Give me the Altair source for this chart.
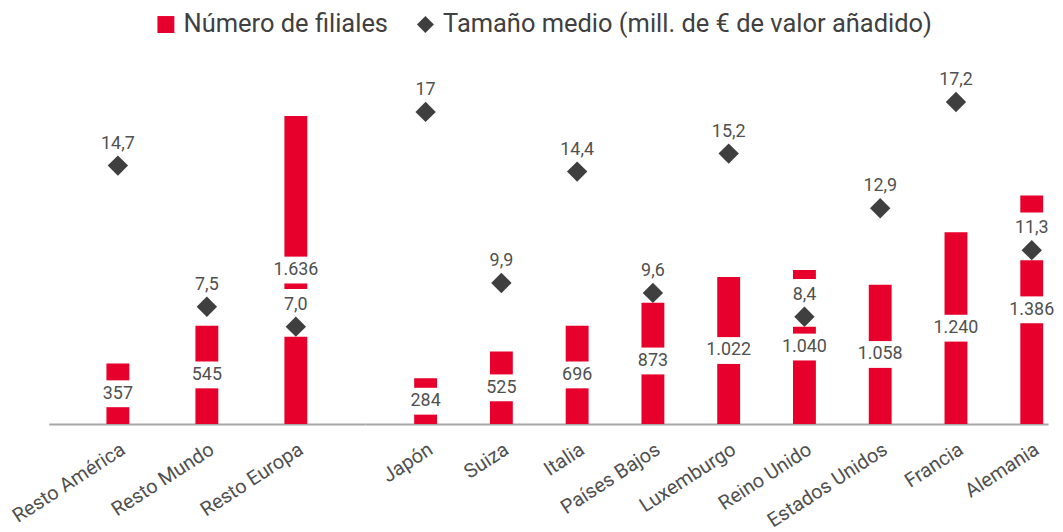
import altair as alt
import pandas as pd

categorias = ["Resto América", "Resto Mundo", "Resto Europa", "Japón", "Suiza", "Italia",
              "Países Bajos", "Luxemburgo", "Reino Unido", "Estados Unidos", "Francia", "Alemania"]
# bar heights as drawn in the picture (filiales axis)
filiales = [322, 522, 1635, 243, 385, 522, 670, 781, 818, 739, 1018, 1213]
filiales_txt = ["357", "545", "1.636", "284", "525", "696", "873", "1.022", "1.040", "1.058", "1.240", "1.386"]
# diamond positions as drawn in the picture (secondary axis)
tamano = [12.47, 5.66, 4.70, 15.06, 6.81, 12.18, 6.33, 13.05, 5.18, 10.41, 15.54, 8.39]
tamano_txt = ["14,7", "7,5", "7,0", "17", "9,9", "14,4", "9,6", "15,2", "8,4", "12,9", "17,2", "11,3"]

S1 = "Número de filiales"
S2 = "Tamaño medio (mill. de € de valor añadido)"
RED = "#E6002B"
DARK = "#3F3F3F"
TXT = "#505050"
FONT = "Roboto"

bdf = pd.DataFrame({"cat": categorias, "v": filiales, "t": filiales_txt, "serie": S1})
pdf = pd.DataFrame({"cat": categorias, "v": tamano, "t": tamano_txt, "serie": S2})

colscale = alt.Scale(domain=[S1, S2], range=[RED, DARK])
shapescale = alt.Scale(domain=[S1, S2], range=["square", "diamond"])
legend = alt.Legend(title=None, orient="none", legendX=105, legendY=2, direction="horizontal",
                    labelFontSize=25.6, labelFont=FONT, labelColor="#404040", symbolSize=290,
                    symbolStrokeWidth=0, columnPadding=24, labelOffset=5, labelLimit=800)

BOX_BAR = "M-15,-13.5L15,-13.5L15,13.5L-15,13.5Z"
BOX_PT = "M-15,-38L15,-38L15,10L-15,10Z"

ybar = alt.Scale(domain=[0, 2200])
ypt = alt.Scale(domain=[0, 20])


def panel(idx, width, po, align):
    cats = [categorias[i] for i in idx]
    b = bdf.iloc[idx]
    p = pdf.iloc[idx]
    xenc = alt.X("cat:N", sort=cats,
                 scale=alt.Scale(paddingInner=0.7, paddingOuter=po, align=align),
                 axis=alt.Axis(title=None, labelAngle=-33, labelAlign="right", labelBaseline="top",
                               ticks=False, domainColor="#A6A6A6", domainWidth=2, labelFontSize=20,
                               labelFont=FONT, labelColor=TXT, labelPadding=15,
                               grid=False, labelOverlap=False))
    bars = alt.Chart(b).mark_bar(size=23).encode(
        x=xenc, y=alt.Y("v:Q", scale=ybar, axis=None),
        color=alt.Color("serie:N", scale=colscale, legend=legend))
    barbox = alt.Chart(b).transform_calculate(mid="datum.v/2").mark_point(
        shape=BOX_BAR, size=4, filled=True, color="white", opacity=1, strokeWidth=0).encode(
        x=xenc, y=alt.Y("mid:Q", scale=ybar, axis=None))
    bartext = alt.Chart(b).transform_calculate(mid="datum.v/2").mark_text(
        fontSize=18, font=FONT, color=TXT, baseline="middle").encode(
        x=xenc, y=alt.Y("mid:Q", scale=ybar, axis=None), text="t:N")
    ptbox = alt.Chart(p).mark_point(
        shape=BOX_PT, size=4, filled=True, color="white", opacity=1, strokeWidth=0).encode(
        x=xenc, y=alt.Y("v:Q", scale=ypt, axis=None))
    pttext = alt.Chart(p).mark_text(
        fontSize=18, font=FONT, color=TXT, baseline="middle", dy=-22).encode(
        x=xenc, y=alt.Y("v:Q", scale=ypt, axis=None), text="t:N")
    pts = alt.Chart(p).mark_point(filled=True, size=420, opacity=1, strokeWidth=0).encode(
        x=xenc, y=alt.Y("v:Q", scale=ypt, axis=None),
        color=alt.Color("serie:N", scale=colscale, legend=legend),
        shape=alt.Shape("serie:N", scale=shapescale, legend=legend))
    return alt.layer(bars, barbox, ptbox, bartext, pttext, pts).resolve_scale(
        y="independent").properties(width=width, height=417)


left = panel([0, 1, 2], 318, 0.6268, 0.5)
right = panel(list(range(3, 12)), 687, 0.3579, 0.909)

chart = alt.hconcat(left, right, spacing=0).properties(
    padding=0, background="white"
).configure_view(stroke=None)

chart.save("out.html", embed_options={"renderer": "svg", "actions": False})
